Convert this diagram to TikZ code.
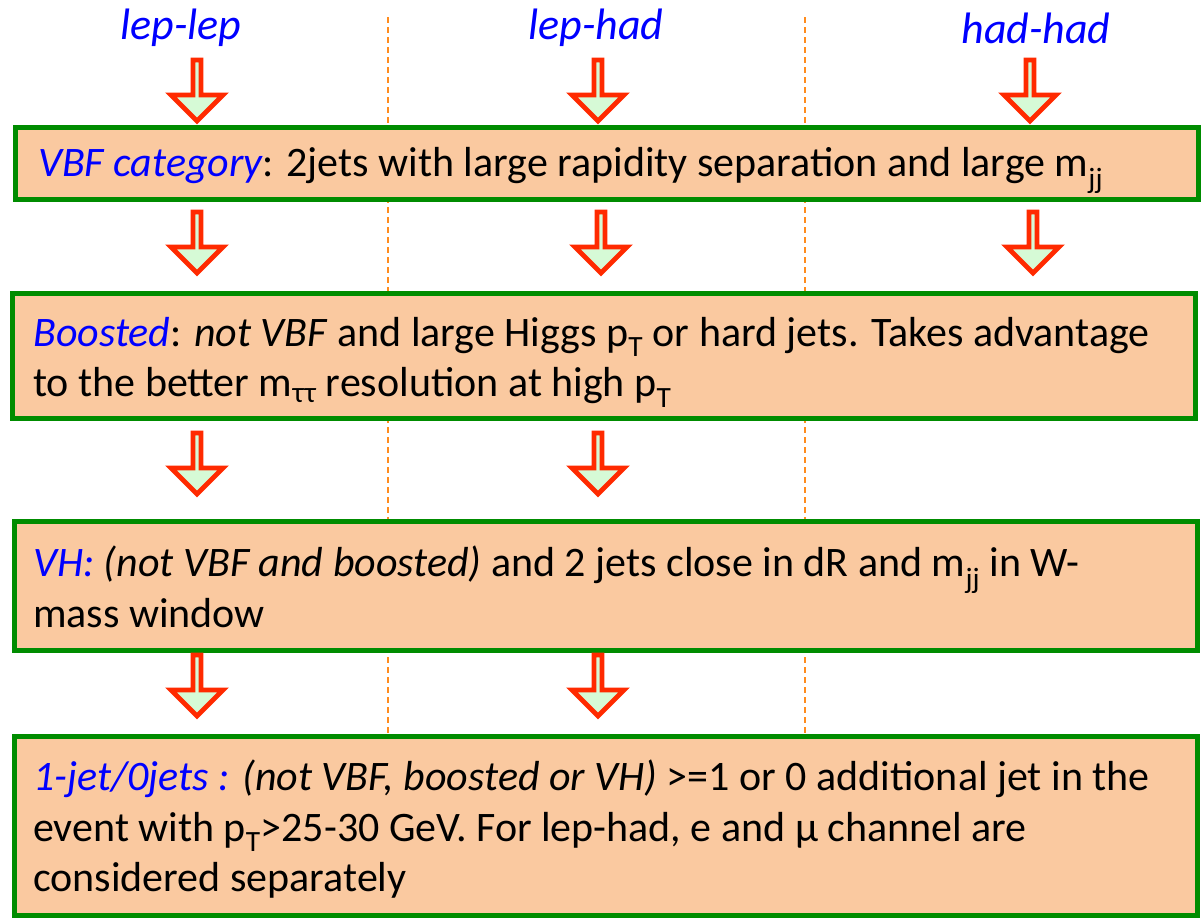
\documentclass[tikz,border=0pt]{standalone}
\usepackage{fontspec}
\setmainfont{Carlito}
\usetikzlibrary{shapes.arrows,positioning}

\definecolor{boxfill}{HTML}{FAC9A0}
\definecolor{boxgreen}{HTML}{008C00}
\definecolor{catblue}{HTML}{0000FF}
\definecolor{arrowred}{HTML}{FF2A00}
\definecolor{arrowfill}{HTML}{D6FAD6}
\definecolor{sepcolor}{HTML}{FF8C1E}

\tikzset{
    catbox/.style={draw=boxgreen, line width=5pt, fill=boxfill, anchor=north west,
        outer sep=0pt, minimum width=1183pt},
    boxtext/.style={anchor=north west, align=left, inner sep=0pt,
        font=\fontsize{42}{50.5}\selectfont},
    chanlabel/.style={font=\fontsize{44}{50}\selectfont\itshape, text=catblue},
    flowarrow/.style={single arrow, draw=arrowred, fill=arrowfill, line width=4.8pt,
        rotate=-90, minimum height=61pt, minimum width=52pt,
        single arrow head extend=13pt, inner sep=0pt, outer sep=0pt, anchor=tail},
    sepline/.style={draw=sepcolor, line width=1.8pt, dash pattern=on 6pt off 4pt}
}

\begin{document}
\begin{tikzpicture}[x=1pt, y=-1pt]
    \useasboundingbox (0,0) rectangle (1202,918);

    % channel separators
    \coordinate (sepA top) at (388,17);
    \coordinate (sepA bot) at (388,736);
    \coordinate (sepB top) at (805,17);
    \coordinate (sepB bot) at (805,736);
    \draw[sepline] (sepA top) -- (sepA bot);
    \draw[sepline] (sepB top) -- (sepB bot);

    % channels
    \node[chanlabel] (leplep) at (181,28) {lep-lep};
    \node[chanlabel] (lephad) at (596,28) {lep-had};
    \node[chanlabel] (hadhad) at (1036,28) {had-had};

    % categories
    \node[catbox, minimum height=72pt] (vbf) at (15,127) {};
    \node[boxtext] (vbftext) at ([shift={(23,20)}]vbf.north west)
        {{\color{catblue}\itshape VBF category}: 2jets with large rapidity separation and large m\textsubscript{jj}};

    \node[catbox, minimum height=125pt] (boost) at (12,293) {};
    \node[boxtext] (boosttext) at ([shift={(21,24)}]boost.north west)
        {{\color{catblue}\itshape Boosted}: \textit{not VBF} and large Higgs p\textsubscript{T} or hard jets. Takes advantage\\
         to the better m\textsubscript{ττ} resolution at high p\textsubscript{T}};

    \node[catbox, minimum height=129pt] (vh) at (14,521) {};
    \node[boxtext] (vhtext) at ([shift={(19,25)}]vh.north west)
        {{\color{catblue}\itshape VH:} \textit{(not VBF and boosted)} and 2 jets close in dR and m\textsubscript{jj} in W-\\
         mass window};

    \node[catbox, minimum height=179pt] (jets) at (14,736) {};
    \node[boxtext] (jetstext) at ([shift={(19,24)}]jets.north west)
        {{\color{catblue}\itshape 1-jet/0jets :} \textit{(not VBF, boosted or VH)} >=1 or 0 additional jet in the\\
         event with p\textsubscript{T}>25-30 GeV. For lep-had, e and μ channel are\\
         considered separately};

    % flow arrows
    \node[flowarrow] (ll1) at (197,60) {};
    \node[flowarrow] (lh1) at (598,60) {};
    \node[flowarrow] (hh1) at (1030,60) {};

    \node[flowarrow] (ll2) at (197,212) {};
    \node[flowarrow] (lh2) at (601,212) {};
    \node[flowarrow] (hh2) at (1033,212) {};

    \node[flowarrow] (ll3) at (197,433) {};
    \node[flowarrow] (lh3) at (598,433) {};

    \node[flowarrow] (ll4) at (197,655) {};
    \node[flowarrow] (lh4) at (598,655) {};
\end{tikzpicture}
\end{document}
